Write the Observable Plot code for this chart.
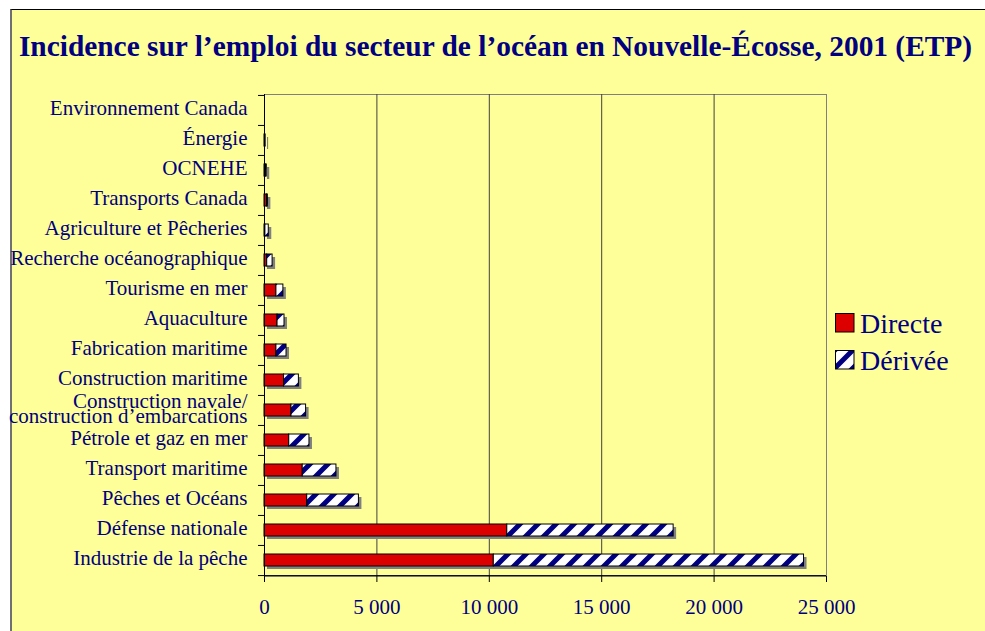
<!DOCTYPE html>
<html>
<head>
<meta charset="utf-8">
<script src="https://cdn.jsdelivr.net/npm/d3@7"></script>
<script src="https://cdn.jsdelivr.net/npm/@observablehq/plot@0.6"></script>
<style>
  html, body { margin: 0; padding: 0; background: #ffffff; width: 985px; height: 631px; overflow: hidden; }
  #panel { position: absolute; left: 10px; top: 9px; width: 1000px; height: 650px; background: #ffff99;
           border-top: 1px solid #000; border-left: 2px solid #707070; }
  #title { position: absolute; left: 16px; width: 959px; top: 31px; text-align: center; white-space: nowrap;
           font-family: "Liberation Serif", "Times New Roman", serif; font-weight: bold; font-size: 29.4px;
           line-height: 30px; color: #000080; }
  #chart { position: absolute; left: 0; top: 0; }
  .leg { position: absolute; font-family: "Liberation Serif", "Times New Roman", serif; font-size: 28px;
         line-height: 28px; color: #000080; white-space: nowrap; }
  .sw { position: absolute; }
</style>
</head>
<body>
<svg width="0" height="0" style="position:absolute">
  <defs>
    <pattern id="hatch" patternUnits="userSpaceOnUse" width="18" height="18">
      <rect width="18" height="18" fill="#ffffff"/>
      <path d="M-4.5,4.5 l9,-9 M0,18 l18,-18 M13.5,22.5 l9,-9" stroke="#000080" stroke-width="5"/>
    </pattern>
  </defs>
</svg>
<div id="panel"></div>
<div id="chart"></div>
<div id="title">Incidence sur l’emploi du secteur de l’océan en Nouvelle-Écosse, 2001 (ETP)</div>
<div id="legend"></div>
<script>
// ---- data ----
const categories = [
  "Environnement Canada",
  "Énergie",
  "OCNEHE",
  "Transports Canada",
  "Agriculture et Pêcheries",
  "Recherche océanographique",
  "Tourisme en mer",
  "Aquaculture",
  "Fabrication maritime",
  "Construction maritime",
  "Construction navale/\nconstruction d’embarcations",
  "Pétrole et gaz en mer",
  "Transport maritime",
  "Pêches et Océans",
  "Défense nationale",
  "Industrie de la pêche"
];
const directe = [0, 30, 70, 110, 40, 120, 530, 580, 530, 870, 1200, 1100, 1700, 1900, 10800, 10200];
const derivee = [0, 20, 30, 40, 150, 240, 310, 310, 450, 660, 650, 900, 1500, 2300, 7400, 13800];
const seriesNames = ["Directe", "Dérivée"];
const xTicks = [0, 5000, 10000, 15000, 20000, 25000];
const gridTicks = [5000, 10000, 15000, 20000];

const rows = categories.map((c, i) => ({cat: c, direct: directe[i], total: directe[i] + derivee[i]}));

const navy = "#000080";
const red = "#dd0000";
const serif = "'Liberation Serif', 'Times New Roman', serif";

const W = 985, H = 631;
const mTop = 94, mBottom = 55, mLeft = 264, mRight = 159;
const step = (H - mTop - mBottom) / categories.length;
const fmt = d => d3.format(",")(d).replace(/,/g, " ");

const plot = Plot.plot({
  width: W,
  height: H,
  marginTop: mTop,
  marginBottom: mBottom,
  marginLeft: mLeft,
  marginRight: mRight,
  style: {background: "transparent", fontFamily: serif, fontSize: "21px", overflow: "visible"},
  x: {domain: [0, 25000], axis: null},
  y: {domain: categories, paddingInner: 0.6, paddingOuter: 0.3, axis: null},
  marks: [
    Plot.frame({stroke: "#808080"}),
    Plot.ruleX(gridTicks, {stroke: "#404040", strokeWidth: 1}),
    Plot.barX(rows, {y: "cat", x1: 0, x2: "total", fill: "#808080", dx: 3, dy: 3}),
    Plot.barX(rows, {y: "cat", x1: 0, x2: "direct", fill: red, stroke: "#000", strokeWidth: 1}),
    Plot.barX(rows, {y: "cat", x1: "direct", x2: "total", fill: "url(#hatch)", stroke: "#000", strokeWidth: 1}),
    Plot.ruleX([0], {stroke: "#000"}),
    Plot.ruleY([categories[categories.length - 1]], {y: d => d, dy: step / 2, stroke: "#000"}),
    Plot.axisY({tickSize: 6, text: null, stroke: "#000", dy: -step / 2, label: null}),
    Plot.axisY({ticks: [categories[categories.length - 1]], tickSize: 6, text: null, stroke: "#000", dy: step / 2, label: null}),
    Plot.axisY({tickSize: 0, tickPadding: 17, fill: navy, fontSize: 21, lineHeight: 0.72, fontFamily: serif, label: null}),
    Plot.axisX({ticks: xTicks, tickSize: 6, tickPadding: 17, tickFormat: fmt, stroke: "#000",
                fill: navy, fontSize: 21, fontFamily: serif, label: null})
  ]
});
document.getElementById("chart").appendChild(plot);

// ---- legend ----
const legend = document.getElementById("legend");
const legendTops = [313, 350];
const legendFills = [red, "url(#hatch)"];
seriesNames.forEach((name, i) => {
  const sw = document.createElementNS("http://www.w3.org/2000/svg", "svg");
  sw.setAttribute("class", "sw");
  sw.setAttribute("width", 20);
  sw.setAttribute("height", 20);
  sw.style.left = "835px";
  sw.style.top = legendTops[i] + "px";
  sw.innerHTML = `<rect x="0.5" y="0.5" width="18.5" height="18.5" fill="${legendFills[i]}" stroke="#000" stroke-width="1"/>`;
  legend.appendChild(sw);
  const t = document.createElement("div");
  t.className = "leg";
  t.style.left = "860px";
  t.style.top = (legendTops[i] - 3.5) + "px";
  t.textContent = name;
  legend.appendChild(t);
});
</script>
</body>
</html>
